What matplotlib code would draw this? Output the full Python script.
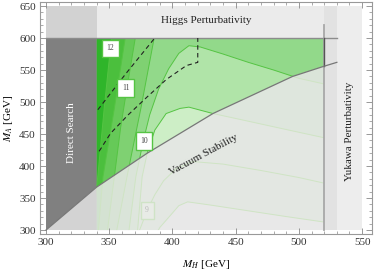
import matplotlib
matplotlib.use("Agg")
import matplotlib.pyplot as plt
import numpy as np
from matplotlib.patches import Polygon
from matplotlib.ticker import MultipleLocator

plt.rcParams["font.family"] = ["Liberation Serif", "DejaVu Serif"]
plt.rcParams["mathtext.fontset"] = "stix"

# vacuum stability boundary (M_H, M_A)
VAC_X = [300, 340, 380, 432, 495, 520, 530]
VAC_Y = [300, 367, 420, 482, 540, 556, 562]

# contour lines, darkest side first
C12 = [(336, 290), (341, 385), (346, 490), (352, 605)]
C115 = [(341, 290), (345, 383), (354, 490), (363, 605)]
C11 = [(348, 290), (354, 383), (359, 460), (364, 522), (371, 605)]
C105 = [(355, 290), (364, 383), (375, 490), (386, 605)]
C10 = [(365, 290), (371, 383), (377, 440), (382, 480), (389, 520), (397, 552),
       (405, 576), (413, 588), (422, 586), (440, 575), (460, 562), (480, 550),
       (500, 537), (525, 526)]
C95 = [(372, 290), (376, 383), (380, 420), (386, 456), (395, 482), (406, 490),
       (413, 492), (432, 482), (460, 470), (490, 457), (525, 442)]
C9 = [(372, 290), (376, 310), (380, 331), (386, 355), (393, 377), (403, 396),
      (416, 407), (440, 403), (470, 393), (500, 382), (525, 371)]
C85 = [(386, 290), (390, 304), (398, 322), (405, 338), (412, 344), (430, 339),
       (460, 330), (490, 321), (525, 311)]
CONTOURS = [C12, C115, C11, C105, C10, C95, C9, C85]
BAND_COLORS = ["#2fb52a", "#4bbf3d", "#66c958", "#7fd172", "#92d98a",
               "#b0e4a8", "#cdeec6", "#cdeec6"]

# labelled contours: text, position
LABELS = [("12", 351, 584), ("11", 363, 522), ("10", 377.5, 439)]
LABEL9 = ("9", 380, 331)

# dashed contours
D1 = [(341, 488), (363, 544), (386, 600)]
D2 = [(342, 423), (351, 451), (365, 480), (380, 508), (395, 535), (411, 557),
      (420, 562), (420, 600)]


def vac(x):
    return np.interp(x, VAC_X, VAC_Y)


def blend(c, base="#e6e6e6", a=0.14):
    c = np.array(matplotlib.colors.to_rgb(c))
    b = np.array(matplotlib.colors.to_rgb(base))
    return tuple(a * c + (1 - a) * b)


fig = plt.figure(figsize=(3.74, 2.71), dpi=100)
ax = fig.add_axes([0.107, 0.1365, 0.888, 0.856])
ax.set_xlim(295.25, 557.9)
ax.set_ylim(293.75, 656.25)

# gray background regions
ax.fill_between([300, 520], 600, 650, color="#ebebeb", lw=0)
ax.fill_between([300, 340], 600, 650, color="#d2d2d2", lw=0)
ax.fill_between([520, 530], 300, 650, color="#e2e2e2", lw=0)
ax.fill_between([530, 550], 300, 650, color="#ededed", lw=0)

xs = np.linspace(340, 520, 200)
green = Polygon(list(zip(xs, vac(xs))) + [(520, 600), (340, 600)],
                closed=True, fc="#cdeec6", ec="none")
faint = Polygon([(340, 300), (520, 300)] + list(zip(xs[::-1], vac(xs[::-1]))),
                closed=True, fc="#e8e8e8", ec="none")
ax.add_patch(green)
ax.add_patch(faint)

for pts, col in reversed(list(zip(CONTOURS, BAND_COLORS))):
    poly = pts + [(pts[-1][0], 700), (290, 700), (290, pts[0][1])]
    p1 = Polygon(poly, closed=True, fc=col, ec="none")
    ax.add_patch(p1)
    p1.set_clip_path(green)
    p2 = Polygon(poly, closed=True, fc=blend(col), ec="none")
    ax.add_patch(p2)
    p2.set_clip_path(faint)

for pts in CONTOURS:
    px, py = zip(*pts)
    l1, = ax.plot(px, py, color="#55c443", lw=0.7)
    l1.set_clip_path(green)
    l2, = ax.plot(px, py, color="#cfe4c4", lw=0.7)
    l2.set_clip_path(faint)

# direct search
xd = np.linspace(300, 340, 50)
ax.add_patch(Polygon(list(zip(xd, vac(xd))) + [(340, 600), (300, 600)],
                     closed=True, fc="#808080", ec="none"))
ax.add_patch(Polygon([(300, 300), (340, 300)] + list(zip(xd[::-1], vac(xd[::-1]))),
                     closed=True, fc="#d3d3d3", ec="none"))

# boundary lines
ax.plot([300, 530], [600, 600], color="#8c8c8c", lw=1.0)
ax.plot([520, 520], [300, 620], color="#a8a8a8", lw=1.3)
ax.plot([520, 520], [vac(520), 600], color="#555555", lw=1.0)
ax.plot(VAC_X, VAC_Y, color="#777777", lw=0.9)

for d in (D1, D2):
    dx, dy = zip(*d)
    ax.plot(dx, dy, color="#222222", lw=0.8, ls=(0, (4, 3)))

for t, x, y in LABELS:
    ax.text(x, y, t, fontsize=5.5, ha="center", va="center", color="#444444",
            bbox=dict(boxstyle="square,pad=0.6", fc="white", ec="#55c443", lw=1.0))
t, x, y = LABEL9
ax.text(x, y, t, fontsize=5.5, ha="center", va="center", color="#bbbbbb",
        bbox=dict(boxstyle="square,pad=0.6", fc="#e8ebe6", ec="#cfe3c6", lw=1.0))

ax.text(427, 628, "Higgs Perturbativity", fontsize=8, ha="center", va="center",
        color="#222222")
ax.text(320.5, 452, "Direct Search", fontsize=8, ha="center", va="center",
        rotation=90, color="white")
ax.text(540, 454, "Yukawa Perturbativity", fontsize=8, ha="center", va="center",
        rotation=90, color="#222222")

# rotate vacuum label along the line
p0 = ax.transData.transform((400, vac(400)))
p1 = ax.transData.transform((460, vac(460)))
ang = np.degrees(np.arctan2(p1[1] - p0[1], p1[0] - p0[0]))
ax.text(425, 418, "Vacuum Stability", fontsize=8, ha="center", va="center",
        rotation=ang, color="#222222")

ax.xaxis.set_major_locator(MultipleLocator(50))
ax.xaxis.set_minor_locator(MultipleLocator(10))
ax.yaxis.set_major_locator(MultipleLocator(50))
ax.yaxis.set_minor_locator(MultipleLocator(10))
ax.tick_params(which="both", direction="in", top=True, right=True,
               color="#888888", labelsize=8, labelcolor="#333333")
ax.tick_params(which="major", length=4, width=0.6, pad=3)
ax.tick_params(which="minor", length=2, width=0.5)
for s in ax.spines.values():
    s.set_color("#999999")
    s.set_linewidth(0.8)

ax.set_xlabel(r"$M_H$ [GeV]", fontsize=8, labelpad=8)
ax.set_ylabel(r"$M_A$ [GeV]", fontsize=8, labelpad=3)

fig.savefig("out.png", dpi=100)
